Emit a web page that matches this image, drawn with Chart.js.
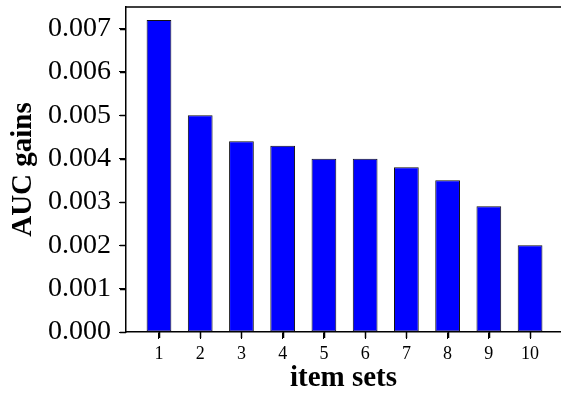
<!DOCTYPE html>
<html>
<head>
<meta charset="utf-8">
<script src="https://cdn.jsdelivr.net/npm/chart.js@4"></script>
<style>
    html, body { margin: 0; padding: 0; background: #fff; }
    #wrap { width: 561px; height: 396px; }
</style>
</head>
<body>
<div id="wrap"><canvas id="gainChart" width="561" height="396"></canvas></div>
<script>
const itemSets = [1, 2, 3, 4, 5, 6, 7, 8, 9, 10];
const aucGains = [0.0072, 0.0050, 0.0044, 0.0043, 0.0040, 0.0040, 0.0038, 0.0035, 0.0029, 0.0020];
const yTicks = [0, 0.001, 0.002, 0.003, 0.004, 0.005, 0.006, 0.007];

// top spine of the axes box + outward tick marks taken from the scales
const axesBox = {
    id: 'axesBox',
    afterDraw(chart) {
        const a = chart.chartArea;
        const ctx = chart.ctx;
        const xs = chart.scales.x, ys = chart.scales.y;
        ctx.save();
        ctx.strokeStyle = '#000';
        ctx.lineWidth = 1.5;
        ctx.beginPath();
        ctx.moveTo(a.left, a.top);
        ctx.lineTo(a.right, a.top);
        itemSets.forEach(v => {
            const px = Math.round(xs.getPixelForValue(v)) + 0.5;
            ctx.moveTo(px, a.bottom);
            ctx.lineTo(px, a.bottom + 6);
        });
        yTicks.forEach(v => {
            const py = Math.round(ys.getPixelForValue(v)) + 0.5;
            ctx.moveTo(a.left, py);
            ctx.lineTo(a.left - 6, py);
        });
        ctx.stroke();
        ctx.restore();
    }
};

document.addEventListener('DOMContentLoaded', function() {
    const ctx = document.getElementById('gainChart').getContext('2d');
    new Chart(ctx, {
        type: 'bar',
        data: {
            datasets: [{
                data: itemSets.map((s, i) => ({ x: s, y: aucGains[i] })),
                backgroundColor: '#0000ff',
                borderColor: '#111',
                borderWidth: 1,
                borderSkipped: false,
                barPercentage: 0.6,
                categoryPercentage: 1
            }]
        },
        options: {
            responsive: false,
            animation: false,
            layout: { padding: { top: 7 } },
            plugins: { legend: { display: false }, tooltip: { enabled: false } },
            scales: {
                x: {
                    type: 'linear',
                    min: 0.2,
                    max: 10.75,
                    offset: false,
                    afterFit: s => { s.height = 64; s.paddingLeft = 0; s.paddingRight = 0; },
                    afterBuildTicks: s => { s.ticks = itemSets.map(v => ({ value: v })); },
                    grid: { offset: false, drawOnChartArea: false, tickLength: 7, color: '#000' },
                    border: { color: '#000', width: 1.5 },
                    ticks: {
                        color: '#000',
                        padding: 4,
                        font: { family: 'Liberation Serif', size: 18 }
                    },
                    title: {
                        display: true,
                        text: 'item sets',
                        color: '#000',
                        padding: { top: 2, bottom: 0 },
                        font: { family: 'Liberation Serif', size: 29, weight: 'bold' }
                    }
                },
                y: {
                    min: 0,
                    max: 0.0075,
                    afterFit: s => { s.width = 126; s.paddingTop = 0; s.paddingBottom = 0; },
                    afterBuildTicks: s => { s.ticks = yTicks.map(v => ({ value: v })); },
                    grid: { drawOnChartArea: false, tickLength: 7, color: '#000' },
                    border: { color: '#000', width: 1.5 },
                    ticks: {
                        color: '#000',
                        padding: 8,
                        callback: v => v.toFixed(3),
                        font: { family: 'Liberation Serif', size: 28 }
                    },
                    title: {
                        display: true,
                        text: 'AUC gains',
                        color: '#000',
                        padding: { top: 6, bottom: 0 },
                        font: { family: 'Liberation Serif', size: 29, weight: 'bold' }
                    }
                }
            }
        },
        plugins: [axesBox]
    });
});
</script>
</body>
</html>
